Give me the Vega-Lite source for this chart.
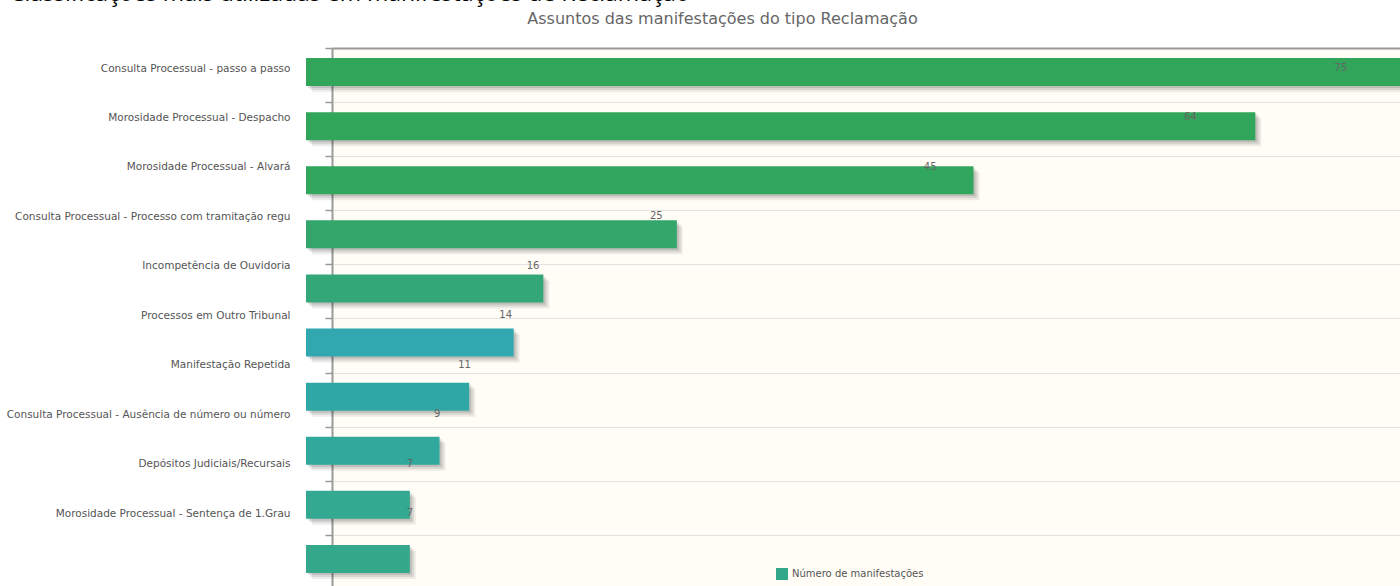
{
  "$schema": "https://vega.github.io/schema/vega-lite/v6.json",
  "width": 1068,
  "height": 541,
  "autosize": {"type": "none"},
  "padding": {"left": 332, "top": 48, "right": 0, "bottom": 0},
  "background": "#ffffff",
  "config": {"view": {"fill": "#fffdf6", "stroke": null}, "font": "DejaVu Sans"},
  "title": {
    "text": "Classificações mais utilizadas em manifestações de Reclamação",
    "anchor": "start",
    "frame": "group",
    "dx": -322,
    "font": "Open Sans",
    "fontSize": 23,
    "fontWeight": "normal",
    "color": "#000000",
    "offset": 4
  },
  "data": {
    "values": [
      {"assunto": "Consulta Processual - passo a passo", "n": 75},
      {"assunto": "Morosidade Processual - Despacho", "n": 64},
      {"assunto": "Morosidade Processual - Alvará", "n": 45},
      {"assunto": "Consulta Processual - Processo com tramitação regu", "n": 25},
      {"assunto": "Incompetência de Ouvidoria", "n": 16},
      {"assunto": "Processos em Outro Tribunal", "n": 14},
      {"assunto": "Manifestação Repetida", "n": 11},
      {"assunto": "Consulta Processual - Ausência de número ou número", "n": 9},
      {"assunto": "Depósitos Judiciais/Recursais", "n": 7},
      {"assunto": "Morosidade Processual - Sentença de 1.Grau", "n": 7}
    ]
  },
  "layer": [
    {
      "encoding": {
        "y": {
          "field": "assunto",
          "type": "nominal",
          "sort": null,
          "scale": {"paddingInner": 0.4824, "paddingOuter": 0.2412},
          "axis": {
            "orient": "left",
            "title": null,
            "labels": false,
            "ticks": true,
            "tickSize": 7,
            "tickColor": "#999999",
            "tickWidth": 1.5,
            "domain": true,
            "domainColor": "#999999",
            "domainWidth": 2,
            "grid": true,
            "gridColor": "#e2e2e2",
            "gridWidth": 1,
            "bandPosition": 0,
            "tickOffset": -13.05
          }
        },
        "x": {
          "field": "n",
          "type": "quantitative",
          "scale": {"domain": [0, 72], "nice": false, "zero": true},
          "axis": {
            "orient": "top",
            "title": "Assuntos das manifestações do tipo Reclamação",
            "titleFont": "DejaVu Sans",
            "titleFontSize": 16,
            "titleFontWeight": "normal",
            "titleColor": "#666666",
            "titleX": 390,
            "titleY": -25,
            "titleAlign": "center",
            "titleBaseline": "alphabetic",
            "labels": false,
            "ticks": false,
            "grid": false,
            "domain": true,
            "domainColor": "#999999",
            "domainWidth": 2
          }
        }
      },
      "layer": [
        {"mark": {"type": "bar", "color": "#000000", "opacity": 0.07, "xOffset": -20, "x2Offset": -20, "yOffset": 3, "y2Offset": 3}},
        {"mark": {"type": "bar", "color": "#000000", "opacity": 0.09, "xOffset": -22, "x2Offset": -22, "yOffset": 1, "y2Offset": 1}},
        {"mark": {"type": "bar", "color": "#000000", "opacity": 0.11, "xOffset": -24, "x2Offset": -24, "yOffset": -1, "y2Offset": -1}},
        {
          "mark": {"type": "bar", "xOffset": -26, "x2Offset": -26, "yOffset": -3, "y2Offset": -3},
          "encoding": {
            "color": {
              "field": "assunto",
              "type": "nominal",
              "sort": null,
              "scale": {
                "range": ["#31a55a", "#31a55a", "#31a65d", "#32a66b", "#33a778", "#31a7b0", "#2fa8a5", "#30a89b", "#33a991", "#33a88a"]
              },
              "legend": {
                "values": ["Morosidade Processual - Sentença de 1.Grau"],
                "labelExpr": "'Número de manifestações'",
                "title": null,
                "orient": "none",
                "legendX": 443,
                "legendY": 519,
                "padding": 0,
                "symbolType": "square",
                "symbolSize": 144,
                "symbolOpacity": 1,
                "labelOffset": 3,
                "labelFont": "DejaVu Sans",
                "labelFontSize": 10,
                "labelColor": "#555555"
              }
            }
          }
        }
      ]
    },
    {
      "mark": {"type": "text", "fontSize": 10, "color": "#666666", "align": "center", "baseline": "middle", "dx": -18, "font": "DejaVu Sans"},
      "encoding": {
        "y": {
          "field": "assunto",
          "type": "nominal",
          "sort": null,
          "scale": {"type": "point", "range": [20, 465], "padding": 0},
          "axis": {
            "orient": "left",
            "title": null,
            "domain": false,
            "ticks": false,
            "grid": false,
            "labelPadding": 42,
            "labelLimit": 0,
            "labelFont": "DejaVu Sans",
            "labelFontSize": 10.5,
            "labelColor": "#555555"
          }
        },
        "x": {
          "field": "n",
          "type": "quantitative",
          "scale": {"domain": [0, 78], "nice": false, "zero": true},
          "axis": null
        },
        "text": {"field": "n", "type": "quantitative"}
      }
    }
  ],
  "resolve": {"scale": {"x": "independent", "y": "independent", "color": "independent"}}
}
